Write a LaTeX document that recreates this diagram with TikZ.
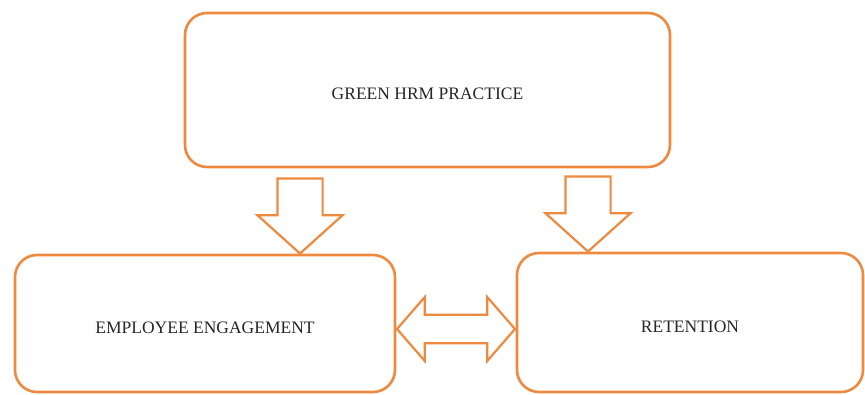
\documentclass[tikz,border=0pt]{standalone}
\usepackage{fontspec}
\setmainfont{Liberation Serif}
\usetikzlibrary{shapes.arrows}
\definecolor{hrmorange}{HTML}{EE8A3F}
\definecolor{hrmtext}{HTML}{262626}

\begin{document}
\begin{tikzpicture}[
  x=1pt, y=-1pt,
  font=\fontsize{17.5}{20}\selectfont,
  box/.style    ={draw=hrmorange, line width=2.6pt, rounded corners=22pt,
                  fill=white, text=hrmtext, text height=19pt, text depth=0pt},
  blk/.style    ={draw=hrmorange, line width=2.2pt, fill=white},
  down/.style   ={blk, single arrow, shape border rotate=270, inner sep=21.5pt,
                  single arrow tip angle=96, single arrow head extend=20pt,
                  minimum height=75pt, minimum width=84pt},
  twoway/.style ={blk, double arrow, inner sep=13pt, double arrow tip angle=98,
                  double arrow head extend=17.5pt,
                  minimum height=118pt, minimum width=64pt},
]
\useasboundingbox (0,0) rectangle (865,394);

\node[box, minimum width=485pt, minimum height=154pt] (green)  at (427.5,90)  {GREEN HRM PRACTICE};
\node[box, minimum width=380pt, minimum height=137pt] (engage) at (205,323.5) {EMPLOYEE ENGAGEMENT};
\node[box, minimum width=346pt, minimum height=139pt] (ret)    at (690,322.5) {RETENTION};

% block arrows between the boxes
\node[down, anchor=tip]  (toengage) at (300,255) {};
\node[down, anchor=tip]  (toret)    at (588,253) {};
\node[twoway]            (link)     at (456,329) {};

\end{tikzpicture}
\end{document}
